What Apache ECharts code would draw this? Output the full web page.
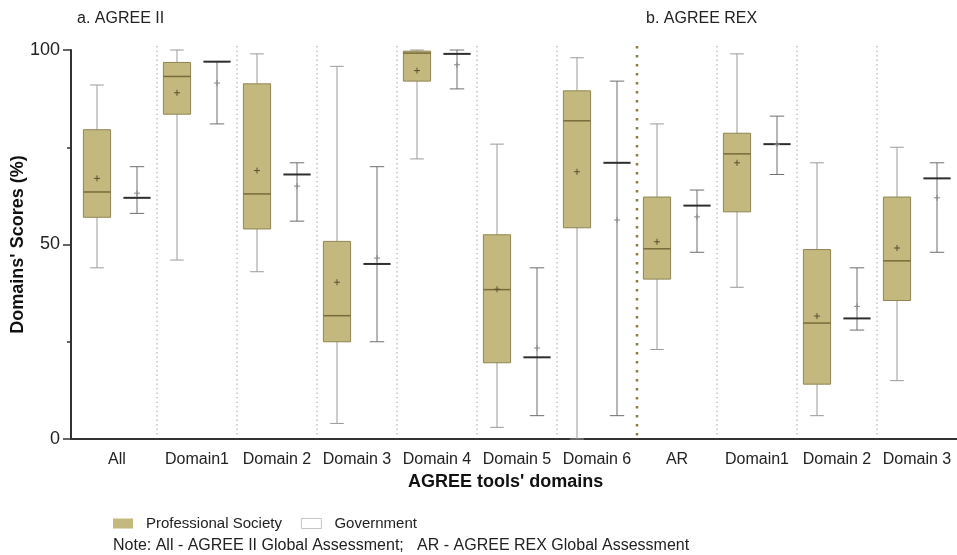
<!DOCTYPE html>
<html>
<head>
<meta charset="utf-8">
<script src="https://cdn.jsdelivr.net/npm/echarts@6/dist/echarts.min.js"></script>
<style>
  html, body { margin: 0; padding: 0; background: #fff; }
  #chart { width: 957px; height: 555px; }
</style>
</head>
<body>
<div id="chart"></div>
<script>
const categories = ["All", "Domain1", "Domain 2", "Domain 3", "Domain 4", "Domain 5", "Domain 6",
  "AR", "Domain1", "Domain 2", "Domain 3"];
const panelTitles = ["a. AGREE II", "b. AGREE REX"];
const panelStart = [0, 7];
const yTicks = [0, 50, 100];

// Professional Society boxes
const psMin    = [44, 46, 43, 4, 72, 3, 0, 23, 39, 6, 15];
const psQ1     = [57, 83.5, 54, 25, 92, 19.6, 54.3, 41.1, 58.4, 14.1, 35.6];
const psMedian = [63.5, 93.2, 63, 31.7, 99.2, 38.4, 81.8, 48.9, 73.3, 29.8, 45.8];
const psQ3     = [79.5, 96.8, 91.3, 50.8, 99.7, 52.5, 89.5, 62.2, 78.6, 48.7, 62.2];
const psMax    = [91, 100, 99, 95.8, 100, 75.8, 98, 81, 99, 71, 75];
const psMean   = [67, 89, 69, 40.3, 94.7, 38.5, 68.7, 50.7, 71, 31.6, 49.1];

// Government (box not drawn, only whiskers, median and mean)
const govMin    = [58, 81, 56, 25, 90, 6, 6, 48, 68, 28, 48];
const govMedian = [62, 97, 68, 45, 99, 21, 71, 60, 75.8, 31, 67];
const govMax    = [70, 97, 71, 70, 100, 44, 92, 64, 83, 44, 71];
const govMean   = [63.2, 91.5, 65, 46.5, 96.2, 23.4, 56.3, 57.1, 75.8, 34.1, 62];

const FONT = "'Liberation Sans', Arial, sans-serif";

const chart = echarts.init(document.getElementById("chart"));

function plus(x, y, color) {
  return [
    { type: "line", shape: { x1: x - 3, y1: y, x2: x + 3, y2: y }, style: { stroke: color, lineWidth: 1 } },
    { type: "line", shape: { x1: x, y1: y - 3, x2: x, y2: y + 3 }, style: { stroke: color, lineWidth: 1 } },
  ];
}

function renderPS(params, api) {
  const i = api.value(0);
  const band = api.size([1, 0])[0];
  const cx = api.coord([i, 0])[0] - band * 0.25;
  const y = (v) => api.coord([i, v])[1];
  const hw = band * 0.17;
  const cw = band * 0.085;
  const whisker = { stroke: "#9a9a9a", lineWidth: 1 };
  const children = [
    { type: "line", shape: { x1: cx, y1: y(api.value(5)), x2: cx, y2: y(api.value(1)) }, style: whisker },
    { type: "line", shape: { x1: cx - cw, y1: y(api.value(5)), x2: cx + cw, y2: y(api.value(5)) }, style: whisker },
    { type: "line", shape: { x1: cx - cw, y1: y(api.value(1)), x2: cx + cw, y2: y(api.value(1)) }, style: whisker },
    {
      type: "rect",
      shape: { x: cx - hw, y: y(api.value(4)), width: hw * 2, height: y(api.value(2)) - y(api.value(4)) },
      style: { fill: "#c3b87e", stroke: "#8f8552", lineWidth: 1 },
    },
    { type: "line", shape: { x1: cx - hw, y1: y(api.value(3)), x2: cx + hw, y2: y(api.value(3)) }, style: { stroke: "#776b3a", lineWidth: 1.5 } },
  ];
  return { type: "group", children: children.concat(plus(cx, y(api.value(6)), "#5a5030")) };
}

function renderGov(params, api) {
  const i = api.value(0);
  const band = api.size([1, 0])[0];
  const cx = api.coord([i, 0])[0] + band * 0.25;
  const y = (v) => api.coord([i, v])[1];
  const hw = band * 0.17;
  const cw = band * 0.09;
  const whisker = { stroke: "#6e6e6e", lineWidth: 1 };
  const children = [
    { type: "line", shape: { x1: cx, y1: y(api.value(3)), x2: cx, y2: y(api.value(1)) }, style: whisker },
    { type: "line", shape: { x1: cx - cw, y1: y(api.value(3)), x2: cx + cw, y2: y(api.value(3)) }, style: whisker },
    { type: "line", shape: { x1: cx - cw, y1: y(api.value(1)), x2: cx + cw, y2: y(api.value(1)) }, style: whisker },
    { type: "line", shape: { x1: cx - hw, y1: y(api.value(2)), x2: cx + hw, y2: y(api.value(2)) }, style: { stroke: "#2e2e2e", lineWidth: 2 } },
  ];
  return { type: "group", children: children.concat(plus(cx, y(api.value(4)), "#888")) };
}

function renderSeparator(params, api) {
  const i = api.value(0);
  const band = api.size([1, 0])[0];
  const x = api.coord([i, 0])[0] - band / 2;
  const isPanel = panelStart.indexOf(i) > 0;
  return {
    type: "line",
    shape: { x1: x, y1: api.coord([i, 101])[1], x2: x, y2: api.coord([i, 0.8])[1] },
    style: isPanel
      ? { stroke: "#8a7e45", lineWidth: 2.5, lineDash: [2.5, 6.5] }
      : { stroke: "#b8b8b8", lineWidth: 1.3, lineDash: [1.3, 3.2] },
  };
}

const psData = categories.map((c, i) => [i, psMin[i], psQ1[i], psMedian[i], psQ3[i], psMax[i], psMean[i]]);
const govData = categories.map((c, i) => [i, govMin[i], govMedian[i], govMax[i], govMean[i]]);
const sepData = categories.slice(1).map((c, i) => [i + 1]);

const option = {
  animation: false,
  textStyle: { fontFamily: FONT },
  title: [
    { text: panelTitles[0], left: 77, top: 11, padding: 0, textStyle: { fontSize: 16, fontWeight: "normal", color: "#222", fontFamily: FONT } },
    { text: panelTitles[1], left: 646, top: 11, padding: 0, textStyle: { fontSize: 16, fontWeight: "normal", color: "#222", fontFamily: FONT } },
    { text: "AGREE tools' domains", left: 408, top: 473, padding: 0, textStyle: { fontSize: 18, fontWeight: "bold", color: "#111", fontFamily: FONT } },
    { text: "Note: All - AGREE II Global Assessment;   AR - AGREE REX Global Assessment", left: 113, top: 538, padding: 0,
      textStyle: { fontSize: 16, fontWeight: "normal", color: "#222", fontFamily: FONT } },
  ],
  legend: {
    left: 113,
    top: 516,
    padding: 0,
    itemWidth: 20,
    itemHeight: 10,
    itemGap: 19,
    selectedMode: false,
    textStyle: { fontSize: 15, color: "#222", fontFamily: FONT, padding: [0, 0, 0, 8] },
    data: [
      { name: "Professional Society", icon: "rect", itemStyle: { color: "#c3b87e", borderWidth: 0 } },
      { name: "Government", icon: "rect", itemStyle: { color: "#fff", borderColor: "#c4c4c4", borderWidth: 1 } },
    ],
  },
  grid: { left: 77, right: 0, top: 50, bottom: 116, outerBoundsMode: "none" },
  xAxis: {
    type: "category",
    data: categories,
    axisLine: { lineStyle: { color: "#333", width: 2 } },
    axisTick: { show: false },
    axisLabel: { interval: 0, fontSize: 16, color: "#222", margin: 13, fontFamily: FONT },
    splitLine: { show: false },
  },
  yAxis: {
    type: "value",
    min: yTicks[0],
    max: yTicks[yTicks.length - 1],
    interval: yTicks[1] - yTicks[0],
    offset: 6,
    name: "Domains' Scores (%)",
    nameLocation: "middle",
    nameGap: 44,
    nameMoveOverlap: false,
    nameTextStyle: { fontSize: 18, fontWeight: "bold", color: "#111", fontFamily: FONT },
    axisLine: { show: true, lineStyle: { color: "#333", width: 2 } },
    axisTick: { show: true, length: 8, lineStyle: { color: "#333", width: 1.5 } },
    minorTick: { show: true, splitNumber: 2, length: 4, lineStyle: { color: "#333", width: 1.5 } },
    axisLabel: { fontSize: 18, color: "#222", margin: 11, fontFamily: FONT },
    splitLine: { show: false },
  },
  graphic: [
    { type: "line", shape: { x1: 70, y1: 439, x2: 78, y2: 439 }, style: { stroke: "#333", lineWidth: 2 } },
  ],
  series: [
    { name: "separators", type: "custom", renderItem: renderSeparator, data: sepData, silent: true, z: 1 },
    { name: "Professional Society", type: "custom", renderItem: renderPS, data: psData, itemStyle: { color: "#c3b87e" }, z: 3 },
    { name: "Government", type: "custom", renderItem: renderGov, data: govData, itemStyle: { color: "#fff" }, z: 3 },
  ],
};

chart.setOption(option);
</script>
</body>
</html>
